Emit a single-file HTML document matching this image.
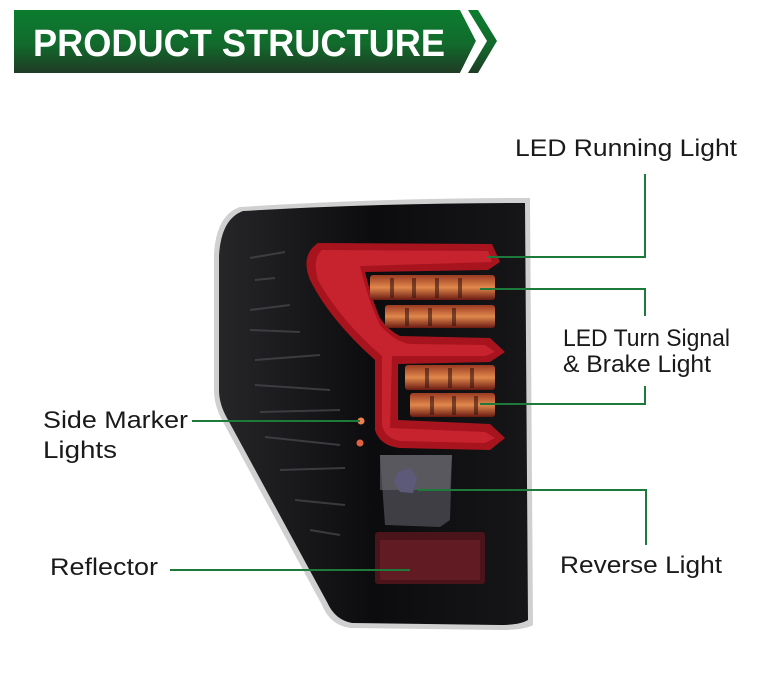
<!DOCTYPE html>
<html><head><meta charset="utf-8"><style>
html,body{margin:0;padding:0;background:#fff;width:760px;height:685px;overflow:hidden}
svg{display:block}
text{font-family:"Liberation Sans",sans-serif}
</style></head><body>
<svg width="760" height="685" viewBox="0 0 760 685" xmlns="http://www.w3.org/2000/svg">
<defs>
<linearGradient id="hg" x1="0" y1="0" x2="0" y2="1">
<stop offset="0" stop-color="#0b7d2f"/><stop offset="0.55" stop-color="#126a2c"/><stop offset="1" stop-color="#1f3b25"/>
</linearGradient>
<linearGradient id="body" x1="0" y1="0" x2="1" y2="0">
<stop offset="0" stop-color="#262629"/><stop offset="0.5" stop-color="#0c0c0e"/><stop offset="1" stop-color="#161618"/>
</linearGradient>
<linearGradient id="led" x1="0" y1="0" x2="0" y2="1">
<stop offset="0" stop-color="#9a3a22"/><stop offset="0.5" stop-color="#e0884c"/><stop offset="1" stop-color="#6a1a12"/>
</linearGradient>
</defs>
<polygon points="14,10 460,10 476,41 460,73 14,73" fill="url(#hg)"/>
<polygon points="460,10 468,10 487,41 468,73 460,73 476,41" fill="#fff"/>
<polygon points="468,10 478,10 497,41 478,73 468,73 487,41" fill="url(#hg)"/>
<text x="33" y="56" font-size="38" font-weight="bold" fill="#fff" textLength="412" lengthAdjust="spacingAndGlyphs">PRODUCT STRUCTURE</text>

<path d="M240,207 Q380,198 530,198 L533,625 Q525,630 500,630 L350,628 Q330,625 322,605 L222,420 Q214,405 214,390 L214,255 Q216,215 240,207 Z" fill="#d0d0d0"/>
<path d="M243,211 Q380,203 525,203 L528,620 Q520,625 500,625 L352,623 Q335,620 327,602 L227,418 Q219,404 219,390 L219,256 Q221,219 243,211 Z" fill="url(#body)"/>
<g stroke="#4a4a50" stroke-width="2" opacity="0.7">
<line x1="250" y1="258" x2="285" y2="252"/><line x1="255" y1="280" x2="275" y2="278"/>
<line x1="250" y1="310" x2="290" y2="305"/><line x1="250" y1="330" x2="300" y2="332"/>
<line x1="255" y1="360" x2="320" y2="355"/><line x1="255" y1="385" x2="330" y2="390"/>
<line x1="260" y1="412" x2="340" y2="410"/><line x1="265" y1="437" x2="340" y2="445"/>
<line x1="280" y1="470" x2="345" y2="468"/><line x1="295" y1="500" x2="345" y2="505"/>
<line x1="310" y1="530" x2="340" y2="535"/>
</g>
<path d="M318,243 L492,244 L500,262 L488,270 L365,272 Q372,300 380,318 Q388,330 400,336 L490,338 L505,352 L490,362 L398,364 L398,420 L490,424 L505,438 L490,450 L400,448 Q380,446 375,430 L375,360 Q330,320 310,280 Q300,255 318,243 Z" fill="#a8141e"/>
<path d="M322,250 L488,251 L492,262 L360,266 Q368,300 380,325 Q395,342 410,344 L485,345 L495,352 L485,356 L392,356 L390,428 L485,432 L495,438 L485,443 L400,441 Q385,438 382,425 L382,356 Q340,320 318,280 Q312,258 322,250 Z" fill="#e0303c" opacity="0.55"/>
<rect x="370" y="275" width="125" height="25" rx="3" fill="url(#led)"/>
<rect x="385" y="305" width="110" height="23" rx="3" fill="url(#led)"/>
<rect x="405" y="365" width="90" height="25" rx="3" fill="url(#led)"/>
<rect x="410" y="393" width="85" height="24" rx="3" fill="url(#led)"/>
<g fill="#3a1410" opacity="0.6">
<rect x="390" y="278" width="4" height="20"/><rect x="412" y="278" width="4" height="20"/><rect x="435" y="278" width="4" height="20"/><rect x="458" y="278" width="4" height="20"/>
<rect x="405" y="308" width="4" height="18"/><rect x="428" y="308" width="4" height="18"/><rect x="452" y="308" width="4" height="18"/>
<rect x="425" y="368" width="4" height="20"/><rect x="448" y="368" width="4" height="20"/><rect x="470" y="368" width="4" height="20"/>
<rect x="430" y="396" width="4" height="19"/><rect x="452" y="396" width="4" height="19"/><rect x="474" y="396" width="4" height="19"/>
</g>
<circle cx="361" cy="421" r="3.5" fill="#f08050"/>
<circle cx="360" cy="443" r="3.5" fill="#e06040"/>
<path d="M380,455 L452,455 L450,520 L440,527 L385,525 Z" fill="#3e3e44"/>
<path d="M380,455 L452,455 L450,490 L380,490 Z" fill="#6a6a70" opacity="0.6"/>
<polygon points="398,472 410,468 417,478 413,493 400,492 394,482" fill="#5c5a78"/>
<rect x="375" y="532" width="110" height="52" rx="3" fill="#4a141a"/>
<rect x="380" y="540" width="100" height="40" fill="#6a1e28" opacity="0.7"/>

<g stroke="#1e7a3a" stroke-width="2" fill="none">
<polyline points="487,257 645,257 645,174"/>
<polyline points="480,289 645,289 645,316"/>
<polyline points="480,404 645,404 645,386"/>
<line x1="192" y1="421" x2="360" y2="421"/>
<polyline points="418,490 646,490 646,545"/>
<line x1="170" y1="570" x2="410" y2="570"/>
</g>
<g fill="#1a1a1a" font-size="24">
<text x="515" y="156" textLength="222" lengthAdjust="spacingAndGlyphs">LED Running Light</text>
<text x="563" y="346" textLength="167" lengthAdjust="spacingAndGlyphs">LED Turn Signal</text>
<text x="563" y="372" textLength="148" lengthAdjust="spacingAndGlyphs">&amp; Brake Light</text>
<text x="43" y="428" textLength="145" lengthAdjust="spacingAndGlyphs">Side Marker</text>
<text x="43" y="458" textLength="74" lengthAdjust="spacingAndGlyphs">Lights</text>
<text x="560" y="573" textLength="162" lengthAdjust="spacingAndGlyphs">Reverse Light</text>
<text x="50" y="575" textLength="108" lengthAdjust="spacingAndGlyphs">Reflector</text>
</g>
</svg>
</body></html>
